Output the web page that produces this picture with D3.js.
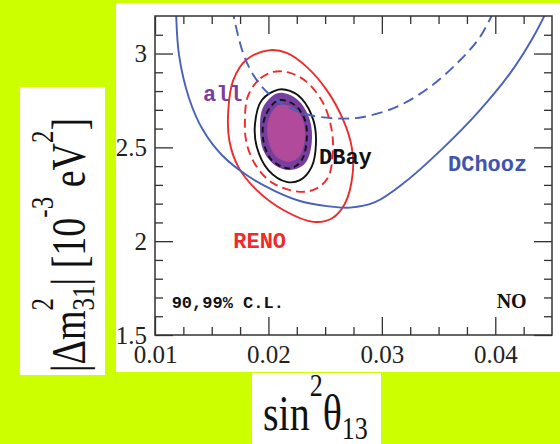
<!DOCTYPE html>
<html>
<head>
<meta charset="utf-8">
<script src="https://cdn.jsdelivr.net/npm/d3@7"></script>
<style>
  html, body { margin: 0; padding: 0; background: #ccff00; }
  svg { display: block; }
  .tick text { font-family: "Liberation Serif", "DejaVu Serif", serif; font-size: 25px; fill: #222; }
  .tick line { stroke: #333; stroke-width: 1.3; }
  .lbl { font-family: "Liberation Mono", "DejaVu Sans Mono", monospace; font-weight: bold; }
</style>
</head>
<body>
<div class="chart"></div>
<script>
// axis ticks
var xTicks = [0.01, 0.02, 0.03, 0.04];
var xTickLabels = ["0.01", "0.02", "0.03", "0.04"];
var yTicks = [1.5, 2, 2.5, 3];
var yTickLabels = ["1.5", "2", "2.5", "3"];

// contours, [sin^2 theta13, |dm31^2| (1e-3 eV^2)]
var all99 = [[0.02073,2.787],[0.01955,2.716],[0.01926,2.609],[0.01955,2.485],[0.02058,2.405],[0.02190,2.379],
             [0.02322,2.414],[0.02381,2.521],[0.02366,2.645],[0.02278,2.742],[0.02175,2.783]];
var all90 = [[0.02087,2.725],[0.01999,2.645],[0.01999,2.538],[0.02073,2.449],[0.02190,2.423],[0.02278,2.458],
             [0.02322,2.556],[0.02293,2.662],[0.02205,2.716]];
var dbay99 = [[0.02087,2.808],[0.01941,2.751],[0.01882,2.627],[0.01897,2.503],[0.01999,2.379],[0.02161,2.316],
              [0.02278,2.325],[0.02381,2.396],[0.02419,2.521],[0.02396,2.645],[0.02293,2.760],[0.02190,2.801]];
var dbay90 = [[0.02087,2.751],[0.01970,2.662],[0.01955,2.538],[0.02029,2.432],[0.02190,2.388],[0.02293,2.432],
              [0.02337,2.538],[0.02322,2.645],[0.02234,2.725]];
var reno99 = [[0.02014,3.018],[0.01808,2.968],[0.01690,2.858],[0.01646,2.698],[0.01655,2.538],[0.01734,2.396],
              [0.01897,2.272],[0.02131,2.166],[0.02396,2.103],[0.02558,2.121],[0.02675,2.201],[0.02743,2.361],
              [0.02734,2.503],[0.02660,2.645],[0.02514,2.805],[0.02337,2.929],[0.02161,3.003]];
var reno90 = [[0.02043,2.902],[0.01911,2.858],[0.01817,2.769],[0.01793,2.645],[0.01808,2.521],[0.01897,2.396],
              [0.02043,2.308],[0.02278,2.263],[0.02426,2.281],[0.02528,2.343],[0.02567,2.468],[0.02558,2.592],
              [0.02484,2.734],[0.02337,2.849],[0.02190,2.897]];
var dchooz99 = [[0.01185,3.241],[0.01212,2.991],[0.01300,2.762],[0.01423,2.592],[0.01591,2.458],[0.01820,2.347],
                [0.02058,2.267],[0.02278,2.214],[0.02516,2.187],[0.02719,2.179],[0.02940,2.208],[0.03204,2.315],
                [0.03539,2.496],[0.03839,2.681],[0.04130,2.894],[0.04335,3.088],[0.04465,3.241]];
var dchooz90 = [[0.01679,3.241],[0.01778,3.000],[0.01897,2.858],[0.02073,2.751],[0.02307,2.681],[0.02602,2.654],
                [0.02836,2.662],[0.03131,2.716],[0.03424,2.822],[0.03689,2.964],[0.03865,3.088],[0.04000,3.241]];

// labels inside the plot
var labels = [
  { text: "all", x: 0.01423, y: 2.746, fill: "#7d3f9b", size: 22 },
  { text: "DBay", x: 0.02446, y: 2.411, fill: "#111", size: 22 },
  { text: "DChooz", x: 0.03583, y: 2.375, fill: "#3f55ad", size: 22 },
  { text: "RENO", x: 0.01690, y: 1.962, fill: "#ee2b2b", size: 22 },
  { text: "90,99% C.L.", x: 0.01147, y: 1.642, fill: "#111", size: 17 }
];

var W = 560, H = 444;
var pl = 155, pr = 552, pt = 16, pb = 335;

var svg = d3.select(".chart").append("svg")
            .attr("width", W)
            .attr("height", H);

svg.append("rect").attr("width", W).attr("height", H).attr("fill", "#ccff00");
// white panels
svg.append("rect").attr("x", 116).attr("y", 3).attr("width", 444).attr("height", 369).attr("fill", "#fff");
svg.append("rect").attr("x", 20).attr("y", 87).attr("width", 85).attr("height", 288).attr("fill", "#fff");
svg.append("rect").attr("x", 252).attr("y", 373).attr("width", 129).attr("height", 71).attr("fill", "#fff");

var x = d3.scaleLinear().domain([0.01, 0.045]).range([pl, pr]);
var y = d3.scaleLinear().domain([1.5, 3.2]).range([pb, pt]);

svg.append("clipPath").attr("id", "clip")
   .append("rect").attr("x", pl).attr("y", pt).attr("width", pr - pl).attr("height", pb - pt);

var plot = svg.append("g").attr("clip-path", "url(#clip)");

var loopLine = d3.line().x(function(d){ return x(d[0]); }).y(function(d){ return y(d[1]); })
               .curve(d3.curveCatmullRomClosed);
var openLine = d3.line().x(function(d){ return x(d[0]); }).y(function(d){ return y(d[1]); })
             .curve(d3.curveCatmullRom);

plot.append("path").attr("d", loopLine(all99)).attr("fill", "#763f9f");
plot.append("path").attr("d", loopLine(all90)).attr("fill", "#b24a9c");

function curve(data, gen, color, dash) {
  plot.append("path")
      .attr("d", gen(data))
      .attr("fill", "none")
      .attr("stroke", color)
      .attr("stroke-width", 1.9)
      .attr("stroke-dasharray", dash);
}
curve(dbay90, loopLine, "#111", "6,4");
curve(dbay99, loopLine, "#111", null);
curve(reno90, loopLine, "#ee2b2b", "9,5");
curve(reno99, loopLine, "#ee2b2b", null);
curve(dchooz90, openLine, "#4862b8", "11,6");
curve(dchooz99, openLine, "#4862b8", null);

// minor ticks
var xMinor = d3.range(0.0125, 0.045, 0.0025).filter(function(v){ return Math.abs(v*100 - Math.round(v*100)) > 1e-6; });
var yMinor = d3.range(1.6, 3.2, 0.1).filter(function(v){ return Math.abs(v*2 - Math.round(v*2)) > 1e-6; });

function axes(major, minor, axisFn, scale, pos, labelsOn, labs, pad) {
  svg.append("g").attr("transform", pos)
     .call(axisFn(scale).tickValues(minor).tickSize(-8).tickFormat(""))
     .call(function(g){ g.select(".domain").remove(); });
  svg.append("g").attr("transform", pos)
     .call(axisFn(scale).tickValues(major).tickSize(-18).tickPadding(pad)
           .tickFormat(function(d, i){ return labelsOn ? labs[i] : ""; }))
     .call(function(g){ g.select(".domain").remove(); });
}
axes(xTicks, xMinor, d3.axisBottom, x, "translate(0," + pb + ")", true, xTickLabels, 10);
axes(xTicks, xMinor, d3.axisTop, x, "translate(0," + pt + ")", false, xTickLabels, 0);
axes(yTicks, yMinor, d3.axisLeft, y, "translate(" + pl + ",0)", true, yTickLabels, 8);
axes(yTicks, yMinor, d3.axisRight, y, "translate(" + pr + ",0)", false, yTickLabels, 0);

svg.selectAll(".tick text").attr("fill", "#222");

svg.append("rect")
   .attr("x", pl).attr("y", pt).attr("width", pr - pl).attr("height", pb - pt)
   .attr("fill", "none").attr("stroke", "#333").attr("stroke-width", 1.5);

svg.selectAll(".lbl").data(labels).enter().append("text")
   .attr("class", "lbl")
   .attr("x", function(d){ return x(d.x); })
   .attr("y", function(d){ return y(d.y); })
   .attr("fill", function(d){ return d.fill; })
   .attr("font-size", function(d){ return d.size; })
   .text(function(d){ return d.text; });

svg.append("text")
   .attr("x", x(0.04012)).attr("y", y(1.642))
   .attr("font-family", "Liberation Serif, serif").attr("font-weight", "bold")
   .attr("font-size", 20).attr("fill", "#111")
   .text("NO");

// x axis title
var xt = svg.append("text")
   .attr("transform", "translate(263,430) scale(1,1.25)")
   .attr("font-family", "Liberation Serif, serif").attr("font-size", 40).attr("fill", "#111");
xt.append("tspan").text("sin");
xt.append("tspan").attr("font-size", 26).attr("dy", -27).text("2");
xt.append("tspan").attr("dy", 27).text("θ");
xt.append("tspan").attr("font-size", 26).attr("dy", 7).text("13");

// y axis title
var yt = svg.append("text")
   .attr("transform", "translate(85,372) rotate(-90) scale(1,1.25)")
   .attr("font-family", "Liberation Serif, serif").attr("font-size", 38).attr("fill", "#111");
yt.append("tspan").text("|Δm");
yt.append("tspan").attr("font-size", 25).attr("dy", -26).text("2");
yt.append("tspan").attr("font-size", 25).attr("dx", -12.5).attr("dy", 33).text("31");
yt.append("tspan").attr("dy", -7).text("| [10");
yt.append("tspan").attr("font-size", 25).attr("dy", -26).text("-3");
yt.append("tspan").attr("dy", 26).text(" eV");
yt.append("tspan").attr("font-size", 25).attr("dy", -26).text("2");
yt.append("tspan").attr("dy", 26).text("]");
</script>
</body>
</html>
